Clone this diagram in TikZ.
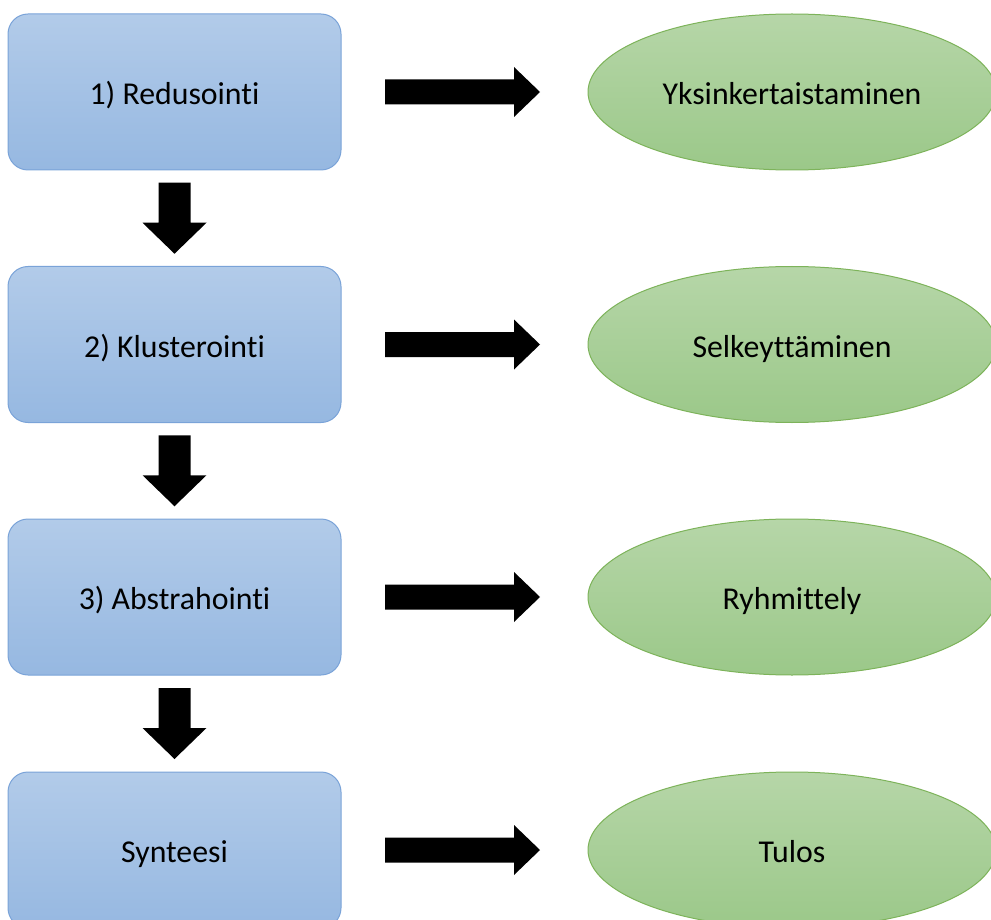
\documentclass[tikz,border=0pt]{standalone}
\usepackage{fontspec}
\setmainfont{Carlito}[Ligatures={NoCommon}]
\usetikzlibrary{shapes.geometric,calc}
\definecolor{boxtop}{HTML}{B2CBE9}
\definecolor{boxbot}{HTML}{96B8E1}
\definecolor{boxline}{HTML}{7AA3D8}
\definecolor{elltop}{HTML}{B6D6A8}
\definecolor{ellbot}{HTML}{9BC889}
\definecolor{ellline}{HTML}{7DB35A}
\tikzset{
  stepbox/.style={rectangle, rounded corners=20pt, draw=boxline, line width=1pt,
    top color=boxtop, bottom color=boxbot, minimum width=333pt, minimum height=156pt,
    inner sep=0pt, text height=32pt, text depth=7pt, font=\fontsize{31.8}{38}\selectfont},
  resultell/.style={ellipse, draw=ellline, line width=1pt,
    top color=elltop, bottom color=ellbot, minimum width=408pt, minimum height=156pt,
    inner sep=0pt, text height=32pt, text depth=7pt, font=\fontsize{31.8}{38}\selectfont},
  downarr/.pic={\fill[black] (-16,35.5) -- (16,35.5) -- (16,-4.5) -- (32,-4.5) -- (0,-35.5) -- (-32,-4.5) -- (-16,-4.5) -- cycle;},
  rightarr/.pic={\fill[black] (-77.5,12.5) -- (51.5,12.5) -- (51.5,25) -- (77.5,0) -- (51.5,-25) -- (51.5,-12.5) -- (-77.5,-12.5) -- cycle;}
}
\begin{document}
\begin{tikzpicture}[x=1pt,y=1pt]
\useasboundingbox (0,0) rectangle (991,-920);
\node[stepbox] (b1) at (174.5,-92) {1) Redusointi};
\node[stepbox] (b2) at (174.5,-344.5) {2) Klusterointi};
\node[stepbox] (b3) at (174.5,-597) {3) Abstrahointi};
\node[stepbox] (b4) at (174.5,-850) {Synteesi};
\node[resultell] (e1) at (792,-92) {Yksinkertaistaminen};
\node[resultell] (e2) at (792,-344.5) {Selkeyttäminen};
\node[resultell] (e3) at (792,-597) {Ryhmittely};
\node[resultell] (e4) at (792,-850) {Tulos};
\pic at ($(b1.south)!0.5!(b2.north)$) {downarr};
\pic at ($(b2.south)!0.5!(b3.north)$) {downarr};
\pic at ($(b3.south)!0.5!(b4.north)$) {downarr};
\pic at ($(b1.east)!0.5!(e1.west)+(-2,0)$) {rightarr};
\pic at ($(b2.east)!0.5!(e2.west)+(-2,0)$) {rightarr};
\pic at ($(b3.east)!0.5!(e3.west)+(-2,0)$) {rightarr};
\pic at ($(b4.east)!0.5!(e4.west)+(-2,0)$) {rightarr};
\end{tikzpicture}
\end{document}
